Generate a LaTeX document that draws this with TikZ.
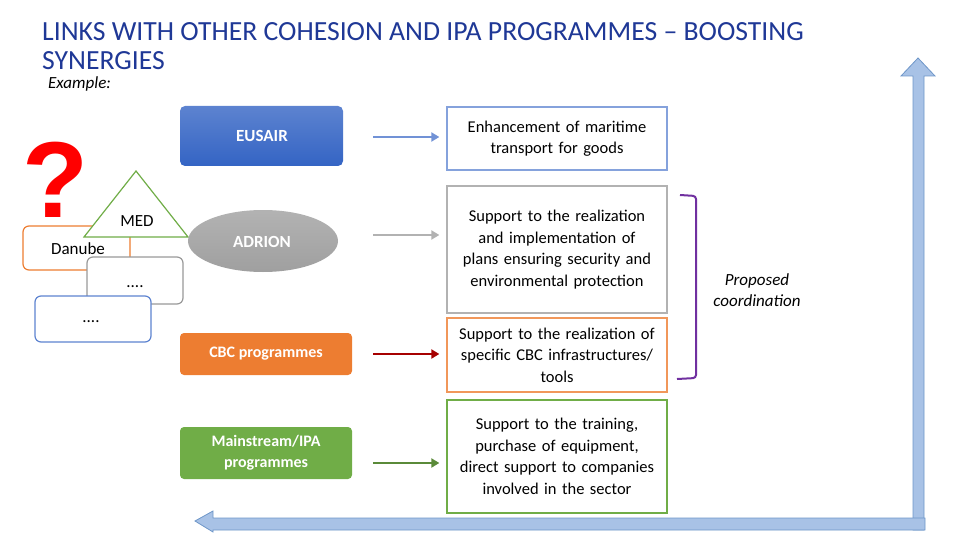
\documentclass[tikz,border=0pt]{standalone}
\usepackage{fontspec}
\setmainfont{Carlito}
\usetikzlibrary{shapes.geometric,arrows.meta}
\definecolor{tblue}{RGB}{31,56,150}
\definecolor{barfill}{RGB}{168,194,230}
\definecolor{bardraw}{RGB}{110,150,200}
\definecolor{eblue}{RGB}{52,100,196}
\definecolor{ogr}{RGB}{112,173,71}
\definecolor{oor}{RGB}{237,125,49}
\definecolor{purp}{RGB}{112,48,160}
\tikzset{
 rbox/.style={draw,line width=1.3pt,fill=white,align=center,text width=220pt,font=\fontsize{16.5}{21.5}\selectfont,inner sep=0pt},
 lbox/.style={rounded corners=6pt,line width=1.2pt,fill=white},
 fbox/.style={rounded corners=4pt,align=center,text=white,font=\bfseries\fontsize{16}{21}\selectfont,minimum width=172pt},
 conn/.style={line width=2pt,-{Triangle[length=8pt,width=9pt]}}
}
\begin{document}
\begin{tikzpicture}[x=1pt,y=-1pt]
\useasboundingbox (0,0) rectangle (960,540);
% title
\node[anchor=north west,inner sep=0pt,text=tblue,font=\fontsize{27.7}{29.5}\selectfont,align=left] (title) at (42,22) {LINKS WITH OTHER COHESION AND IPA PROGRAMMES – BOOSTING\\SYNERGIES};
\node[anchor=west,inner sep=0pt,font=\itshape\fontsize{17}{19}\selectfont] (ex) at (48,84) {Example:};
% question mark
\node[text=red,font=\bfseries\fontsize{108}{108}\selectfont\fontspec{Liberation Sans}] (q) at (55,180) {?};
% left cluster
\draw[lbox,draw=oor] (23,226) rectangle (130,270);
\node (danube) at (78,249) {\fontsize{17}{19}\selectfont Danube};
\draw[draw=ogr,line width=1.2pt,fill=white] (84,237) -- (136,171) -- (188,237) -- cycle;
\node (med) at (137,221) {\fontsize{17}{19}\selectfont MED};
\draw[lbox,draw=gray!80] (87,257) rectangle (183,304);
\node (d1) at (135,287) {\fontsize{17}{19}\selectfont ....};
\draw[lbox,draw=eblue!80] (35,296) rectangle (151,342);
\node (d2) at (91,322) {\fontsize{17}{19}\selectfont ....};
% middle
\shade[top color=eblue!80,bottom color=eblue,rounded corners=5pt] (180,106) rectangle (343,166);
\node[text=white,font=\bfseries\fontsize{17}{19}\selectfont] (eusair) at (262,136) {EUSAIR};
\shade[top color=gray!60,bottom color=gray!75] (263,241) ellipse (75 and 31);
\node[text=white,font=\bfseries\fontsize{17}{19}\selectfont] (adrion) at (262,242) {ADRION};
\node[fbox,fill=oor,minimum height=42pt] (cbc) at (266,354) {CBC programmes};
\node[fbox,fill=ogr,minimum height=52pt] (main) at (266,453) {Mainstream/IPA\\programmes};
% right boxes
\node[rbox,draw=eblue!60,minimum height=63pt] (r1) at (557,138.5) {Enhancement of maritime\\transport for goods};
\node[rbox,draw=gray!60,minimum height=127pt] (r2) at (557,249.5) {Support to the realization\\and implementation of\\plans ensuring security and\\environmental protection};
\node[rbox,draw=oor!80,minimum height=74pt] (r3) at (557,355) {Support to the realization of\\specific CBC infrastructures/\\tools};
\node[rbox,draw=ogr,minimum height=113pt] (r4) at (557,456.5) {Support to the training,\\purchase of equipment,\\direct support to companies\\involved in the sector};
% connectors
\coordinate (a1) at (373,137); \coordinate (a2) at (373,235);
\coordinate (a3) at (373,354); \coordinate (a4) at (373,463);
\draw[conn,draw=eblue!70,fill=eblue!70] (a1) -- ([xshift=-7pt]r1.west |- a1);
\draw[conn,draw=gray!60,fill=gray!60] (a2) -- ([xshift=-7pt]r2.west |- a2);
\draw[conn,draw=red!65!black] (a3) -- ([xshift=-7pt]r3.west |- a3);
\draw[conn,draw=ogr!80!black] (a4) -- ([xshift=-7pt]r4.west |- a4);
% bracket
\draw[purp,line width=2pt,rounded corners=3pt] (680,195) -- (696,196) -- (696,378) -- (677,379);
\node[font=\itshape\fontsize{17}{21}\selectfont,align=center] (pc) at (757,290) {Proposed\\coordination};
% big L arrow
\fill[barfill,draw=bardraw,line width=0.8pt] (901,76) -- (918,58) -- (935,76) -- (924,76) -- (924,530) -- (913,530) -- (913,76) -- cycle;
\fill[barfill,draw=bardraw,line width=0.8pt] (213,511) -- (195,521) -- (213,532) -- (213,530) -- (925,530) -- (925,518) -- (213,518) -- cycle;
\end{tikzpicture}
\end{document}
